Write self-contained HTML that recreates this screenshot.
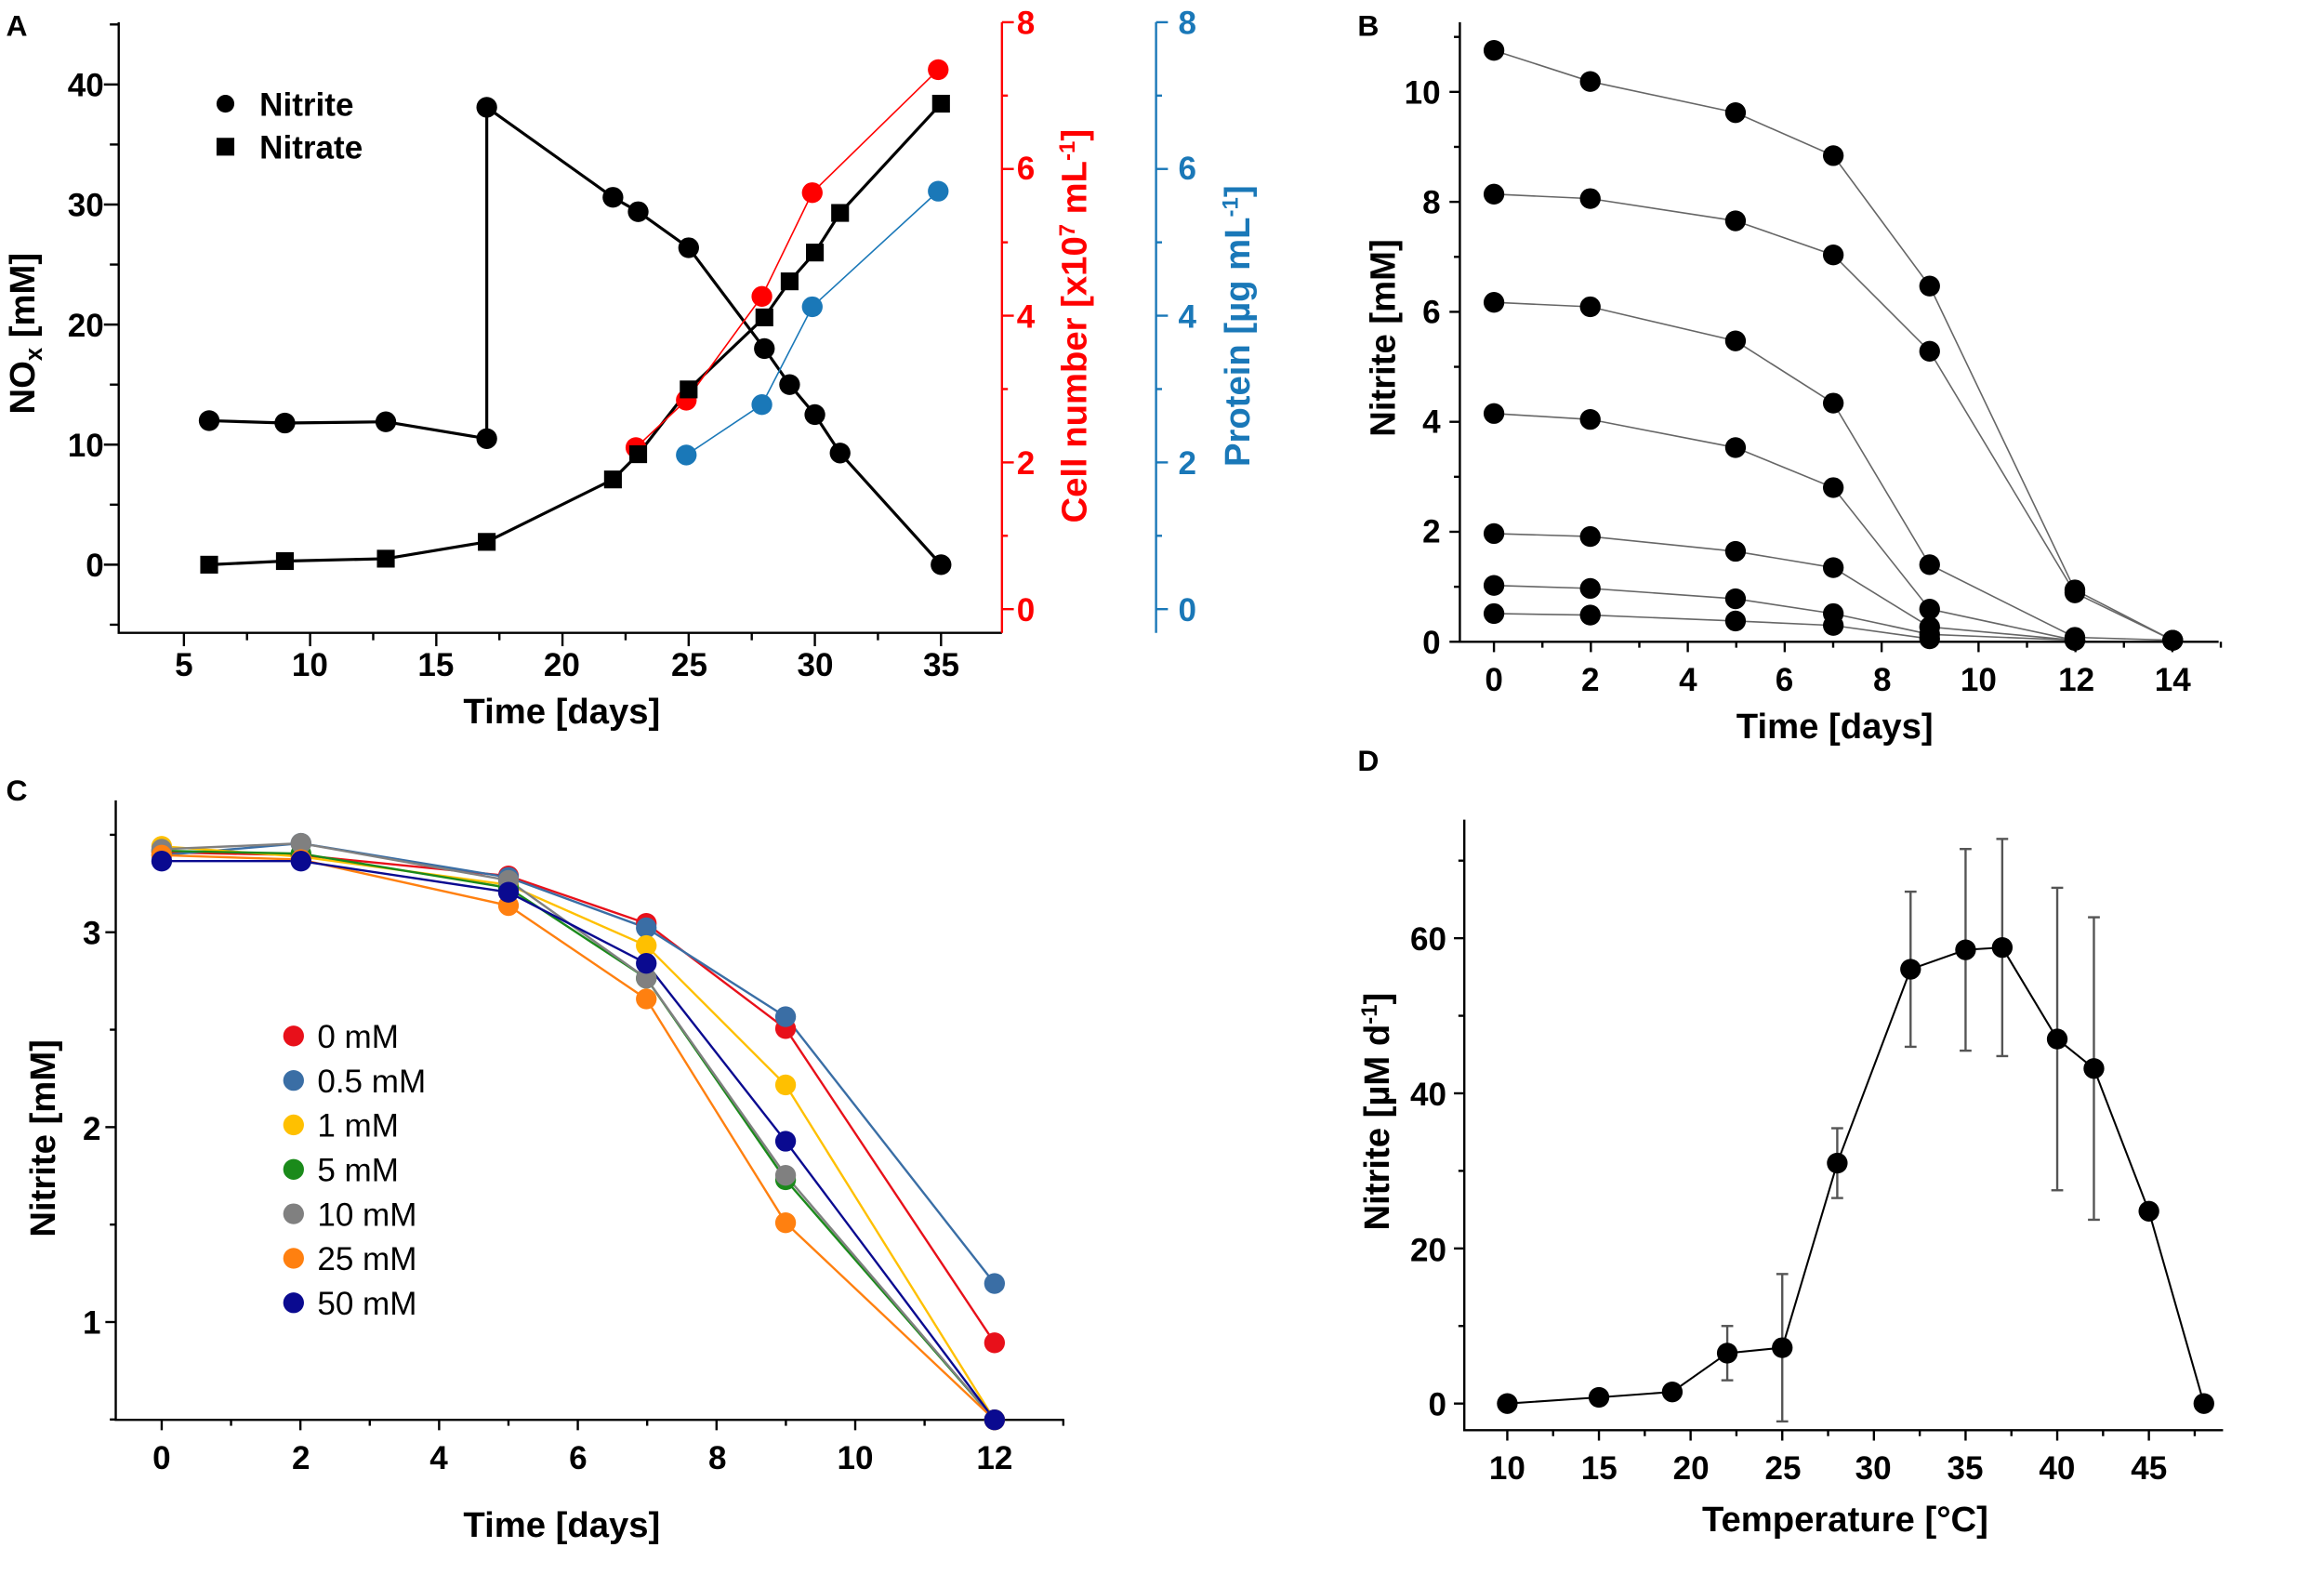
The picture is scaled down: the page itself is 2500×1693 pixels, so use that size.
<!DOCTYPE html>
<html><head><meta charset="utf-8"><style>
html,body{margin:0;padding:0;background:#fff}
svg{display:block}
text{font-family:"Liberation Sans",Arial,sans-serif;font-weight:bold}
</style></head><body>
<svg id="s" width="2500" height="1693" viewBox="0 0 1568 1062" xmlns="http://www.w3.org/2000/svg">
<rect width="1568" height="1062" fill="#fff"/>
<g font-size="20">
<text x="4" y="24">A</text><text x="916" y="24">B</text><text x="4" y="540">C</text><text x="916" y="520">D</text>
</g>
<g stroke="#000" stroke-width="1.5" fill="none">
<path d="M80,15V427H676"/>
</g>
<path d="M676,15V427" stroke="#f00" stroke-width="1.5"/>
<path d="M780,15V427" stroke="#1a78b8" stroke-width="1.5"/>
<g font-size="22" text-anchor="end" fill="#000">
<text x="70" y="389">0</text><text x="70" y="308">10</text><text x="70" y="227">20</text><text x="70" y="146">30</text><text x="70" y="65">40</text>
</g>
<g font-size="22" text-anchor="middle">
<text x="124" y="456">5</text><text x="209" y="456">10</text><text x="294" y="456">15</text><text x="379" y="456">20</text><text x="465" y="456">25</text><text x="550" y="456">30</text><text x="635" y="456">35</text>
<text x="379" y="488" font-size="24">Time [days]</text>
</g>
<g font-size="22" fill="#f00"><text x="686" y="419">0</text><text x="686" y="320">2</text><text x="686" y="221">4</text><text x="686" y="121">6</text><text x="686" y="23">8</text></g>
<g font-size="22" fill="#1a78b8"><text x="795" y="419">0</text><text x="795" y="320">2</text><text x="795" y="221">4</text><text x="795" y="121">6</text><text x="795" y="23">8</text></g>
<text transform="translate(23,225) rotate(-90)" font-size="24" text-anchor="middle">NO<tspan font-size="16" dy="5">x</tspan><tspan dy="-5"> [mM]</tspan></text>
<text transform="translate(733,220) rotate(-90)" font-size="24" text-anchor="middle" fill="#f00">Cell number [x10<tspan font-size="15" dy="-8">7</tspan><tspan dy="8"> mL</tspan><tspan font-size="15" dy="-8">-1</tspan><tspan dy="8">]</tspan></text>
<text transform="translate(843,220) rotate(-90)" font-size="24" text-anchor="middle" fill="#1a78b8">Protein [µg mL<tspan font-size="15" dy="-8">-1</tspan><tspan dy="8">]</tspan></text>
<circle cx="152" cy="70" r="6"/><text x="175" y="78" font-size="22">Nitrite</text>
<rect x="146" y="93" width="12" height="12"/><text x="175" y="107" font-size="22">Nitrate</text>
<path d="M985,15V433H1497" stroke="#000" stroke-width="1.5" fill="none"/>
<g font-size="22" text-anchor="end"><text x="972" y="441">0</text><text x="972" y="366">2</text><text x="972" y="292">4</text><text x="972" y="218">6</text><text x="972" y="144">8</text><text x="972" y="70">10</text></g>
<g font-size="22" text-anchor="middle"><text x="1008" y="466">0</text><text x="1073" y="466">2</text><text x="1139" y="466">4</text><text x="1204" y="466">6</text><text x="1270" y="466">8</text><text x="1335" y="466">10</text><text x="1401" y="466">12</text><text x="1466" y="466">14</text>
<text x="1238" y="498" font-size="24">Time [days]</text></g>
<text transform="translate(941,228) rotate(-90)" font-size="24" text-anchor="middle">Nitrite [mM]</text>
<path d="M78,540V958H718" stroke="#000" stroke-width="1.5" fill="none"/>
<g font-size="22" text-anchor="end"><text x="68" y="900">1</text><text x="68" y="769">2</text><text x="68" y="637">3</text></g>
<g font-size="22" text-anchor="middle"><text x="109" y="991">0</text><text x="203" y="991">2</text><text x="296" y="991">4</text><text x="390" y="991">6</text><text x="484" y="991">8</text><text x="577" y="991">10</text><text x="671" y="991">12</text>
<text x="379" y="1037" font-size="24">Time [days]</text></g>
<text transform="translate(37,768) rotate(-90)" font-size="24" text-anchor="middle">Nitrite [mM]</text>
<g font-size="22" font-weight="normal">
<circle cx="198" cy="699" r="7" fill="#e8101a"/><text x="214" y="707" font-weight="normal" style="font-weight:normal">0 mM</text>
<circle cx="198" cy="729" r="7" fill="#3a6ea5"/><text x="214" y="737" style="font-weight:normal">0.5 mM</text>
<circle cx="198" cy="759" r="7" fill="#ffc000"/><text x="214" y="767" style="font-weight:normal">1 mM</text>
<circle cx="198" cy="789" r="7" fill="#1a8a1a"/><text x="214" y="797" style="font-weight:normal">5 mM</text>
<circle cx="198" cy="819" r="7" fill="#808080"/><text x="214" y="827" style="font-weight:normal">10 mM</text>
<circle cx="198" cy="849" r="7" fill="#ff8010"/><text x="214" y="857" style="font-weight:normal">25 mM</text>
<circle cx="198" cy="879" r="7" fill="#0a0a90"/><text x="214" y="887" style="font-weight:normal">50 mM</text>
</g>
<path d="M988,553V965H1500" stroke="#000" stroke-width="1.5" fill="none"/>
<g font-size="22" text-anchor="end"><text x="976" y="955">0</text><text x="976" y="851">20</text><text x="976" y="746">40</text><text x="976" y="641">60</text></g>
<g font-size="22" text-anchor="middle"><text x="1017" y="998">10</text><text x="1079" y="998">15</text><text x="1141" y="998">20</text><text x="1203" y="998">25</text><text x="1264" y="998">30</text><text x="1326" y="998">35</text><text x="1388" y="998">40</text><text x="1450" y="998">45</text>
<text x="1245" y="1033" font-size="24">Temperature [°C]</text></g>
<text transform="translate(937,750) rotate(-90)" font-size="24" text-anchor="middle">Nitrite [µM d<tspan font-size="15" dy="-8">-1</tspan><tspan dy="8">]</tspan></text>
<g id="dyn"></g>
</svg>
<script>
var g=document.getElementById('dyn'),NS='http://www.w3.org/2000/svg';
function el(t,a){var e=document.createElementNS(NS,t);for(var k in a)e.setAttribute(k,a[k]);g.appendChild(e);return e;}
function line(p,c,w){el('polyline',{points:p.map(function(q){return q.join(',')}).join(' '),fill:'none',stroke:c,'stroke-width':w});}
function dots(p,c,r){p.forEach(function(q){el('circle',{cx:q[0],cy:q[1],r:r,fill:c});});}
function tk(x1,y1,x2,y2,c){el('line',{x1:x1,y1:y1,x2:x2,y2:y2,stroke:c||'#000','stroke-width':1.5});}
var ax=function(d){return 124+(d-5)*17.03},ay=function(v){return 381-v*8.1};
for(var d=5;d<=35;d+=2.5)tk(ax(d),427,ax(d),d%5?432:436);
for(var v=-5;v<=45;v+=5)tk(80,ay(v),v%10?74:70,ay(v));
for(var i=0;i<=8;i++){var yy=411-i*49.5;tk(676,yy,i%2?680:684,yy,'#f00');tk(780,yy,i%2?784:788,yy,'#1a78b8');}
var nit=[[6,12],[9,11.8],[13,11.9],[17,10.5],[17,38.1],[22,30.6],[23,29.4],[25,26.4],[28,18],[29,15],[30,12.5],[31,9.3],[35,0]].map(function(q){return[ax(q[0]),ay(q[1])]});
var nat=[[6,0],[9,0.3],[13,0.5],[17,1.9],[22,7.1],[23,9.2],[25,14.6],[28,20.6],[29,23.6],[30,26],[31,29.3],[35,38.4]].map(function(q){return[ax(q[0]),ay(q[1])]});
line(nit,'#000',2);line(nat,'#000',2);
var red=[[429,302],[463,270],[514,200],[548,130],[633,47]],blue=[[463,307],[514,273],[548,207],[633,129]];
line(red,'#f00',1);line(blue,'#1a78b8',1);dots(red,'#f00',7);dots(blue,'#1a78b8',7);
dots(nit,'#000',7);nat.forEach(function(q){el('rect',{x:q[0]-6,y:q[1]-6,width:12,height:12,fill:'#000'})});
for(var d=0;d<=15;d++)tk(1008+d*32.7,433,1008+d*32.7,d%2?437:440);
for(var v=0;v<=11;v++)tk(985,433-v*37.1,v%2?981:978,433-v*37.1);
var B=[[[1008,34],[1073,55],[1171,76],[1237,105],[1302,193],[1400,398],[1466,432]],
[[1008,131],[1073,134],[1171,149],[1237,172],[1302,237],[1400,400],[1466,432]],
[[1008,204],[1073,207],[1171,230],[1237,272],[1302,381],[1400,430],[1466,432]],
[[1008,279],[1073,283],[1171,302],[1237,329],[1302,411],[1400,432]],
[[1008,360],[1073,362],[1171,372],[1237,383],[1302,423],[1400,432]],
[[1008,395],[1073,397],[1171,404],[1237,414],[1302,428],[1400,432]],
[[1008,414],[1073,415],[1171,419],[1237,422],[1302,431]]];
B.forEach(function(s){line(s,'#666',1);});B.forEach(function(s){dots(s,'#000',7);});
for(var d=0;d<=13;d++)tk(109+d*46.8,958,109+d*46.8,d%2?962:965);
for(var v=0.5;v<=3.5;v+=0.5)tk(78,892-(v-1)*131.5,(v*2)%2?74:71,892-(v-1)*131.5);
var X=[109,203,343,436,530,671];
var C=[['#e8101a',[575,577,591,623,694,906]],['#3a6ea5',[577,569,592,626,686,866]],['#ffc000',[571,578,597,638,732,958]],['#1a8a1a',[574,576,599,660,796,958]],['#808080',[573,569,594,660,793,958]],['#ff8010',[577,580,611,674,825,958]],['#0a0a90',[581,581,602,650,770,958]]];
C.forEach(function(s){var p=X.map(function(x,i){return[x,s[1][i]]});line(p,s[0],1.5);});
C.forEach(function(s){var p=X.map(function(x,i){return[x,s[1][i]]});dots(p,s[0],7);});
var dx=function(t){return 1017+(t-10)*12.37},dy=function(v){return 947-v*5.233};
for(var t=10;t<=47.5;t+=2.5)tk(dx(t),965,dx(t),t%5?969:972);
for(var v=0;v<=70;v+=10)tk(988,dy(v),v%20?984:981,dy(v));
var D=[[10,0],[15,0.8],[19,1.5],[22,6.5],[25,7.2],[28,31],[32,56],[35,58.5],[37,58.8],[40,47],[42,43.2],[45,24.8],[48,0]];
var E={22:3.5,25:9.5,28:4.5,32:10,35:13,37:14,40:19.5,42:19.5};
D.forEach(function(q){var e=E[q[0]];if(e){var x=dx(q[0]);tk(x,dy(q[1]-e),x,dy(q[1]+e),'#555');tk(x-4,dy(q[1]-e),x+4,dy(q[1]-e),'#555');tk(x-4,dy(q[1]+e),x+4,dy(q[1]+e),'#555');}});
var Dp=D.map(function(q){return[dx(q[0]),dy(q[1])]});line(Dp,'#000',1.3);dots(Dp,'#000',7);
</script>
</body></html>
